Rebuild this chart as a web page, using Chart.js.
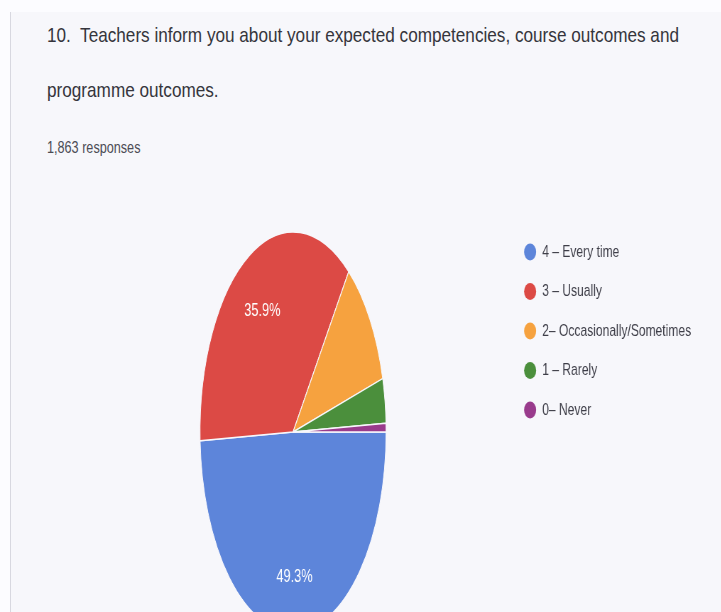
<!DOCTYPE html>
<html>
<head>
<meta charset="utf-8">
<script src="https://cdn.jsdelivr.net/npm/chart.js@4.4.1/dist/chart.umd.min.js"></script>
<style>
  html, body { margin: 0; padding: 0; width: 721px; height: 612px; overflow: hidden; background: #fcfcff; }
  #card { position: absolute; left: 10px; top: 12px; width: 711px; height: 600px; background: #f7f7fb; border-left: 1px solid #d8d8e0; }
  .hd { position: absolute; left: 47px; font-family: 'Liberation Sans', Arial, sans-serif; white-space: nowrap; transform-origin: 0 0; }
  #title { top: 7px; font-size: 21px; line-height: 55px; color: #35353c; transform: scaleX(0.817); }
  #sub { top: 138px; font-size: 16px; line-height: 20px; color: #4c4c55; transform: scaleX(0.79); }
  /* the canvas is drawn wide and squeezed, like the photo */
  #wrap { position: absolute; left: 0; top: 0; width: 1016px; height: 660px; transform: scaleX(0.71); transform-origin: 0 0; }
</style>
</head>
<body>
<div id="card"></div>
<div class="hd" id="title">10.&nbsp; Teachers inform you about your expected competencies, course outcomes and<br>programme outcomes.</div>
<div class="hd" id="sub">1,863 responses</div>
<div id="wrap"><canvas id="pie-chart"></canvas></div>
<script>
// answers and share of responses (%)
const labels = ["4 – Every time", "3 – Usually", "2– Occasionally/Sometimes", "1 – Rarely", "0– Never"];
const percents = [49.3, 35.9, 10.5, 3.6, 0.7];
const colors = ["#5d85da", "#dc4a45", "#f6a23f", "#4b8f3c", "#993b8c"];

const FONT = "'Liberation Sans', Arial, sans-serif";
const SQUASH = 0.655; // extra squeeze of the pie on top of the canvas one

// squeeze the pie into an ellipse and print the percentages
const ellipsePie = {
    id: 'ellipsePie',
    beforeDatasetsDraw(chart) {
        const arc = chart.getDatasetMeta(0).data[0];
        const ctx = chart.ctx;
        ctx.save();
        ctx.translate(arc.x, arc.y);
        ctx.scale(SQUASH, 1);
        ctx.translate(-arc.x, -arc.y);
    },
    afterDatasetsDraw(chart) {
        const ctx = chart.ctx;
        ctx.restore();
        ctx.save();
        ctx.fillStyle = '#ffffff';
        ctx.font = '18px ' + FONT;
        ctx.textAlign = 'center';
        ctx.textBaseline = 'middle';
        chart.getDatasetMeta(0).data.forEach((arc, i) => {
            if (percents[i] < 15) return;
            const p = arc.getProps(['x', 'y', 'startAngle', 'endAngle', 'outerRadius'], true);
            const mid = (p.startAngle + p.endAngle) / 2;
            const r = p.outerRadius * 0.705;
            ctx.fillText(percents[i].toFixed(1) + '%', p.x + Math.cos(mid) * r * SQUASH, p.y + Math.sin(mid) * r + 4);
        });
        ctx.restore();
    }
};

const pieChart = new Chart(document.getElementById("pie-chart"), {
    type: 'pie',
    data: {
        labels: labels,
        datasets: [{
            data: percents,
            backgroundColor: colors,
            borderColor: '#f7f7fb',
            borderWidth: 1.5,
            radius: 200
        }]
    },
    options: {
        responsive: true,
        maintainAspectRatio: false,
        animation: false,
        rotation: 90,
        layout: {
            padding: { top: 221, bottom: 17, left: 109.8, right: 32.6 }
        },
        plugins: {
            legend: {
                position: 'right',
                align: 'start',
                labels: {
                    usePointStyle: true,
                    pointStyle: 'circle',
                    boxHeight: 12,
                    pointStyleWidth: 17,
                    padding: 22.5,
                    color: '#3e3e48',
                    font: { family: FONT, size: 17 },
                    generateLabels(chart) {
                        const items = Chart.overrides.pie.plugins.legend.labels.generateLabels(chart);
                        items.forEach(it => { it.lineWidth = 0; });
                        return items;
                    }
                }
            },
            tooltip: { enabled: false }
        }
    },
    plugins: [ellipsePie]
});
</script>
</body>
</html>
